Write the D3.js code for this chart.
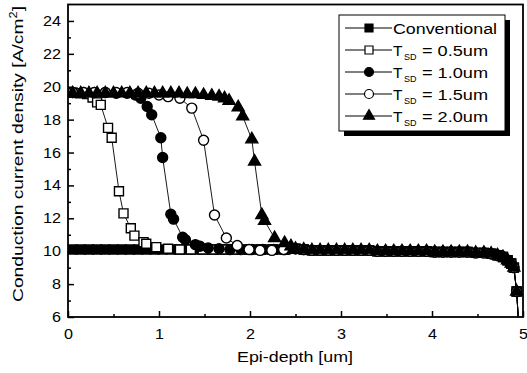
<!DOCTYPE html>
<html>
<head>
<meta charset="utf-8">
<script src="https://cdn.jsdelivr.net/npm/d3@7"></script>
<style>
  body { margin: 0; background: #fff; }
  svg { display: block; font-family: "Liberation Sans", Arial, sans-serif; }
</style>
</head>
<body>
<script>
var width = 527,
    height = 373;

// readings
var xTicks = [0, 1, 2, 3, 4, 5];
var yTicks = [6, 8, 10, 12, 14, 16, 18, 20, 22, 24];

// all curves share the same tail past ~2.5um
var tail = [[2.5,10.15],[2.59,10.1],[2.68,10.05],[2.77,10.05],[2.86,10.05],[2.95,10.05],[3.04,10.05],
  [3.13,10.05],[3.22,10.05],[3.31,10.05],[3.4,10.0],[3.49,10.0],[3.58,10.0],[3.67,10.0],[3.76,10.0],
  [3.85,10.0],[3.94,10.0],[4.03,9.95],[4.12,9.95],[4.21,9.95],[4.3,9.95],[4.39,9.95],[4.48,9.9],
  [4.57,9.9],[4.65,9.85],[4.72,9.75],[4.78,9.65],[4.83,9.45],[4.87,9.25],[4.9,9.0],
  [4.93,7.55],[4.97,4.0]];

var conventional = [[0.05,10.1],[0.14,10.1],[0.23,10.1],[0.32,10.1],[0.41,10.1],[0.5,10.1],[0.59,10.1],
  [0.68,10.1],[0.77,10.1],[0.86,10.1],[0.95,10.1],[1.04,10.1],[1.13,10.1],[1.22,10.1],[1.31,10.1],
  [1.4,10.1],[1.49,10.1],[1.58,10.1],[1.67,10.1],[1.76,10.1],[1.85,10.1],[1.94,10.1],[2.03,10.1],
  [2.12,10.1],[2.21,10.1],[2.3,10.1],[2.39,10.1]];

var tsd05 = [[0.05,19.65],[0.13,19.6],[0.21,19.55],[0.27,19.35],[0.32,19.05],[0.36,18.9],[0.44,17.5],
  [0.48,16.9],[0.56,13.65],[0.61,12.3],[0.69,11.4],[0.73,10.95],[0.83,10.55],[0.86,10.45],[0.97,10.25],
  [1.1,10.15],[1.23,10.1],[1.35,10.1],[1.48,10.1],[1.6,10.1],[1.73,10.1],[1.86,10.1],[1.99,10.1],
  [2.12,10.1],[2.25,10.1],[2.38,10.1]];

var tsd10 = [[0.05,19.65],[0.17,19.65],[0.29,19.65],[0.41,19.65],[0.53,19.6],[0.65,19.6],[0.74,19.5],
  [0.8,19.3],[0.87,18.8],[0.92,18.3],[1.02,16.9],[1.04,15.7],[1.13,12.25],[1.16,11.95],[1.26,10.85],
  [1.29,10.7],[1.4,10.4],[1.45,10.3],[1.54,10.2],[1.66,10.15],[1.78,10.1],[1.9,10.1],[2.02,10.1],
  [2.14,10.1],[2.26,10.1],[2.38,10.1]];

var tsd15 = [[0.05,19.65],[0.17,19.65],[0.29,19.65],[0.41,19.65],[0.53,19.65],[0.65,19.65],[0.77,19.6],
  [0.89,19.6],[1.0,19.5],[1.1,19.4],[1.23,19.3],[1.36,18.7],[1.49,16.75],[1.61,12.2],[1.74,10.8],
  [1.86,10.35],[1.99,10.1],[2.11,10.05],[2.24,10.05],[2.37,10.1]];

var tsd20 = [[0.05,19.6],[0.14,19.6],[0.23,19.6],[0.32,19.6],[0.41,19.6],[0.5,19.6],[0.59,19.6],
  [0.68,19.6],[0.77,19.6],[0.86,19.6],[0.95,19.6],[1.04,19.6],[1.13,19.6],[1.22,19.6],[1.31,19.55],
  [1.4,19.55],[1.49,19.5],[1.58,19.45],[1.66,19.4],[1.72,19.3],[1.77,19.15],[1.87,18.75],[1.92,18.2],
  [2.02,16.8],[2.05,15.45],[2.13,12.2],[2.16,11.85],[2.27,10.8],[2.38,10.5],[2.45,10.3]];

var series = [
  { name: "Conventional", sub: null, pts: conventional.concat(tail), shape: "square", fill: "#000" },
  { name: "T", sub: "SD", rest: "= 0.5um", pts: tsd05.concat(tail), shape: "square", fill: "#fff" },
  { name: "T", sub: "SD", rest: "= 1.0um", pts: tsd10.concat(tail), shape: "circle", fill: "#000" },
  { name: "T", sub: "SD", rest: "= 1.5um", pts: tsd15.concat(tail), shape: "circle", fill: "#fff" },
  { name: "T", sub: "SD", rest: "= 2.0um", pts: tsd20.concat(tail), shape: "triangle", fill: "#000" }
];

var pLeft = 68, pRight = 523, pTop = 4.5, pBottom = 317;

var x = d3.scaleLinear().domain([0, 5]).range([pLeft, pRight]);
var y = d3.scaleLinear().domain([6, 25]).range([pBottom, pTop]);

var svg = d3.select("body").append("svg")
    .attr("width", width)
    .attr("height", height);

svg.append("clipPath").attr("id", "plot")
  .append("rect")
    .attr("x", pLeft).attr("y", pTop)
    .attr("width", pRight - pLeft).attr("height", pBottom - pTop);

// s = side (square, triangle) or diameter (circle)
function symbolPath(shape, s) {
  if (shape == "square") return d3.symbol(d3.symbolSquare, s * s)();
  if (shape == "circle") return d3.symbol(d3.symbolCircle, Math.PI * s * s / 4)();
  return d3.symbol(d3.symbolTriangle, 0.433 * s * s)();
}

var sizes = { square: 9, circle: 10, triangle: 12 };

var g = svg.append("g").attr("clip-path", "url(#plot)");
var line = d3.line().x(d => x(d[0])).y(d => y(d[1]));

series.forEach(function(s) {
  g.append("path")
    .datum(s.pts)
    .attr("fill", "none")
    .attr("stroke", "#000")
    .attr("stroke-width", 0.9)
    .attr("d", line);

  g.selectAll(null)
    .data(s.pts.filter(d => d[1] >= 6))
    .enter().append("path")
      .attr("d", symbolPath(s.shape, sizes[s.shape]))
      .attr("transform", d => "translate(" + x(d[0]) + "," + y(d[1]) + ")")
      .attr("fill", s.fill)
      .attr("stroke", "#000")
      .attr("stroke-width", 1.4);
});

// axes, ticks inward
var yAxis = d3.axisLeft(y).tickValues(yTicks).tickSize(-6).tickPadding(7).tickFormat(d3.format("d"));
var xAxis = d3.axisBottom(x).tickValues(xTicks).tickSize(-6).tickPadding(12).tickFormat(d3.format("d"));

svg.append("g").attr("transform", "translate(" + pLeft + ",0)").call(yAxis);
svg.append("g").attr("transform", "translate(0," + pBottom + ")").call(xAxis);

svg.append("g").attr("transform", "translate(" + pLeft + ",0)")
  .call(d3.axisLeft(y).tickValues([7, 9, 11, 13, 15, 17, 19, 21, 23]).tickSize(-3).tickFormat(""));
svg.append("g").attr("transform", "translate(0," + pBottom + ")")
  .call(d3.axisBottom(x).tickValues([0.5, 1.5, 2.5, 3.5, 4.5]).tickSize(-3).tickFormat(""));

svg.selectAll(".domain").remove();
svg.selectAll(".tick line").attr("stroke", "#000").attr("stroke-width", 1.5);
svg.selectAll(".tick text")
  .attr("fill", "#000")
  .style("font-size", "14px")
  .attr("textLength", function() { return this.textContent.length * 9; })
  .attr("lengthAdjust", "spacingAndGlyphs");

svg.append("rect")
  .attr("x", pLeft).attr("y", pTop)
  .attr("width", pRight - pLeft).attr("height", pBottom - pTop)
  .attr("fill", "none")
  .attr("stroke", "#000")
  .attr("stroke-width", 1.8);

// axis titles
svg.append("text")
  .attr("x", 295)
  .attr("y", 362)
  .attr("text-anchor", "middle")
  .attr("textLength", 116)
  .attr("lengthAdjust", "spacingAndGlyphs")
  .style("font-size", "15px")
  .text("Epi-depth [um]");

var yt = svg.append("text")
  .attr("transform", "translate(23,154) rotate(-90)")
  .attr("text-anchor", "middle")
  .attr("textLength", 296)
  .attr("lengthAdjust", "spacingAndGlyphs")
  .style("font-size", "15px");
yt.append("tspan").text("Conduction current density [A/cm");
yt.append("tspan").attr("dy", -6).style("font-size", "10px").text("2");
yt.append("tspan").attr("dy", 6).text("]");

// legend
var lx = 339, ly = 15, lw = 166, lh = 116;
svg.append("rect").attr("x", lx + 5).attr("y", ly + 5).attr("width", lw).attr("height", lh).attr("fill", "#000");
svg.append("rect").attr("x", lx).attr("y", ly).attr("width", lw).attr("height", lh)
  .attr("fill", "#fff").attr("stroke", "#000").attr("stroke-width", 1);

series.forEach(function(s, i) {
  var cy = ly + 13 + i * 22;
  svg.append("line")
    .attr("x1", lx + 6).attr("x2", lx + 53)
    .attr("y1", cy).attr("y2", cy)
    .attr("stroke", "#000").attr("stroke-width", 1);
  svg.append("path")
    .attr("d", symbolPath(s.shape, s.shape == "triangle" ? 11 : (s.shape == "circle" ? 9 : 8)))
    .attr("transform", "translate(" + (lx + 30) + "," + cy + ")")
    .attr("fill", s.fill).attr("stroke", "#000").attr("stroke-width", 1.2);
  if (s.sub) {
    svg.append("text")
      .attr("x", lx + 54).attr("y", cy + 5.5)
      .style("font-size", "15.5px")
      .text(s.name);
    svg.append("text")
      .attr("x", lx + 65).attr("y", cy + 10)
      .style("font-size", "9px")
      .text(s.sub);
    svg.append("text")
      .attr("x", lx + 83).attr("y", cy + 5.5)
      .style("font-size", "15.5px")
      .attr("textLength", 66).attr("lengthAdjust", "spacingAndGlyphs")
      .text(s.rest);
  } else {
    svg.append("text")
      .attr("x", lx + 54).attr("y", cy + 5.5)
      .style("font-size", "15.5px")
      .attr("textLength", 104).attr("lengthAdjust", "spacingAndGlyphs")
      .text(s.name);
  }
});
</script>
</body>
</html>
